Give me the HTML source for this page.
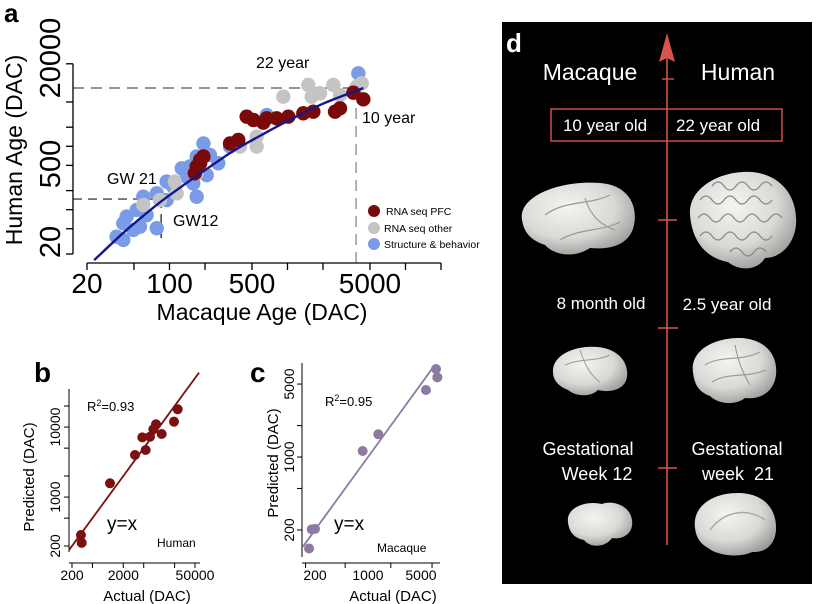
<!DOCTYPE html>
<html><head><meta charset="utf-8"><style>
html,body{margin:0;padding:0;background:#fff;}
svg{display:block;font-family:"Liberation Sans",sans-serif;}
</style></head><body>
<svg id="fig" width="820" height="604" viewBox="0 0 820 604" xmlns="http://www.w3.org/2000/svg">
<defs>
<radialGradient id="brainG" cx="40%" cy="35%" r="70%">
<stop offset="0" stop-color="#f4f4f2"/><stop offset="0.6" stop-color="#d9d9d6"/><stop offset="1" stop-color="#9a9a98"/>
</radialGradient>
</defs>
<!-- Panel a static -->
<text x="4" y="22" font-size="26" font-weight="bold">a</text>
<text transform="translate(22,150) rotate(-90)" text-anchor="middle" font-size="23">Human Age (DAC)</text>
<text x="262" y="320" text-anchor="middle" font-size="23">Macaque Age (DAC)</text>
<text transform="translate(60,58) rotate(-90)" text-anchor="middle" font-size="29">20000</text>
<text transform="translate(60,164) rotate(-90)" text-anchor="middle" font-size="29">500</text>
<text transform="translate(60,242) rotate(-90)" text-anchor="middle" font-size="29">20</text>
<g id="aTickLabels" font-size="28" text-anchor="middle"></g>
<g id="panelA"></g>
<text x="256" y="68" font-size="16">22 year</text>
<text x="362" y="123" font-size="16">10 year</text>
<text x="107" y="184" font-size="16">GW 21</text>
<text x="173" y="226" font-size="16">GW12</text>
<g font-size="10.5">
<circle cx="374" cy="211" r="6" fill="#7a0a0a"/>
<text x="386" y="215">RNA seq PFC</text>
<circle cx="374" cy="228" r="6" fill="#c4c4c4"/>
<text x="384" y="232">RNA seq other</text>
<circle cx="374" cy="244" r="6" fill="#7a9be8"/>
<text x="384" y="248">Structure &amp; behavior</text>
</g>
<!-- Panel b -->
<text x="34" y="382" font-size="28" font-weight="bold">b</text>
<text transform="translate(34,477) rotate(-90)" text-anchor="middle" font-size="15">Predicted (DAC)</text>
<text x="147" y="601" text-anchor="middle" font-size="15">Actual (DAC)</text>
<text x="87" y="411" font-size="13">R<tspan font-size="9" dy="-5">2</tspan><tspan dy="5">=0.93</tspan></text>
<text x="107" y="530" font-size="19">y=x</text>
<text x="157" y="547" font-size="12">Human</text>
<g id="panelB"></g>
<!-- Panel c -->
<text x="250" y="382" font-size="28" font-weight="bold">c</text>
<text transform="translate(278,463) rotate(-90)" text-anchor="middle" font-size="15">Predicted (DAC)</text>
<text x="393" y="601" text-anchor="middle" font-size="15">Actual (DAC)</text>
<text x="325" y="406" font-size="13">R<tspan font-size="9" dy="-5">2</tspan><tspan dy="5">=0.95</tspan></text>
<text x="334" y="530" font-size="19">y=x</text>
<text x="377" y="552" font-size="12">Macaque</text>
<g id="panelC"></g>
<!-- Panel d -->
<g>
<rect x="502" y="22" width="310" height="562" fill="#000"/>
<text x="506" y="52" font-size="26" font-weight="bold" fill="#fff">d</text>
<line x1="667" y1="58" x2="667" y2="545" stroke="#d9534f" stroke-width="1.6"/>
<polygon points="667,33 659,62 667,58 675,62" fill="#d9534f"/>
<line x1="662" y1="79" x2="674" y2="79" stroke="#d9534f" stroke-width="1.4"/>
<line x1="658" y1="220" x2="677" y2="220" stroke="#d9534f" stroke-width="1.4"/>
<line x1="658" y1="328" x2="678" y2="328" stroke="#d9534f" stroke-width="1.4"/>
<line x1="658" y1="468" x2="677" y2="468" stroke="#d9534f" stroke-width="1.4"/>
<text x="590" y="80" text-anchor="middle" font-size="23" fill="#fff">Macaque</text>
<text x="738" y="80" text-anchor="middle" font-size="23" fill="#fff">Human</text>
<rect x="551" y="109" width="231" height="32" fill="none" stroke="#d9534f" stroke-width="1.4"/>
<text x="605" y="131" text-anchor="middle" font-size="17" fill="#fff">10 year old</text>
<text x="718" y="131" text-anchor="middle" font-size="17" fill="#fff">22 year old</text>
<g>
<path d="M522,220 C518,196 560,180 600,183 C628,185 638,205 634,225 C630,245 610,250 590,248 C575,258 555,256 545,245 C530,240 524,232 522,220 Z" fill="url(#brainG)"/>
<path d="M545,215 C565,200 590,205 610,195 M560,240 C580,228 600,232 620,222 M585,198 C590,215 600,225 615,230" stroke="#999" stroke-width="1.2" fill="none"/>
</g>
<g>
<path d="M690,215 C688,188 720,170 752,172 C784,175 798,200 796,225 C794,245 780,258 765,258 C758,270 740,272 728,262 C705,258 692,240 690,215 Z" fill="url(#brainG)"/>
<path d="M700,200 q6,-8 12,0 t12,0 t12,0 t12,0 t12,0 t12,0 M698,218 q6,-8 12,0 t12,0 t12,0 t12,0 t12,0 t12,0 t12,0 M700,236 q6,-8 12,0 t12,0 t12,0 t12,0 t12,0 t12,0 M712,186 q6,-8 12,0 t12,0 t12,0 t12,0 t12,0 M730,252 q6,-8 12,0 t12,0 t12,0" stroke="#8a8a88" stroke-width="1.3" fill="none"/>
</g>
<text x="601" y="309" text-anchor="middle" font-size="17" fill="#fff">8 month old</text>
<text x="727" y="310" text-anchor="middle" font-size="17" fill="#fff">2.5 year old</text>
<g>
<path d="M553,372 C552,355 575,345 598,347 C618,349 629,362 627,377 C625,390 610,393 598,390 C590,398 575,396 568,390 C558,386 553,380 553,372 Z" fill="url(#brainG)"/>
<path d="M565,365 C580,358 595,362 610,355 M580,350 C585,365 590,375 600,382" stroke="#999" stroke-width="1" fill="none"/>
</g>
<g>
<path d="M693,372 C690,350 715,337 742,338 C766,340 778,355 776,375 C774,392 760,400 745,398 C735,406 718,404 710,396 C698,392 694,383 693,372 Z" fill="url(#brainG)"/>
<path d="M705,365 C720,355 740,362 760,352 M712,382 C728,372 748,378 766,370 M735,345 C738,360 742,372 750,385" stroke="#999" stroke-width="1.1" fill="none"/>
</g>
<text x="588" y="455" text-anchor="middle" font-size="18" fill="#fff">Gestational</text>
<text x="597" y="480" text-anchor="middle" font-size="18" fill="#fff">Week 12</text>
<text x="737" y="455" text-anchor="middle" font-size="18" fill="#fff">Gestational</text>
<text x="738" y="480" text-anchor="middle" font-size="18" fill="#fff" xml:space="preserve">week  21</text>
<g>
<path d="M568,522 C566,508 585,500 602,504 C612,500 630,505 632,520 C634,534 622,540 612,538 C605,548 590,548 584,540 C574,538 569,532 568,522 Z" fill="url(#brainG)"/>
</g>
<g>
<path d="M695,528 C692,505 715,492 740,493 C765,494 777,510 776,530 C775,545 765,553 752,552 C740,558 718,556 708,548 C699,543 696,536 695,528 Z" fill="url(#brainG)"/>
<path d="M710,530 C725,510 748,508 765,520" stroke="#aaa" stroke-width="1.5" fill="none"/>
</g>
</g>
</svg>
<script>
// ---------- Panel A data ----------
const redX = [3614,4393,2529,2787,1656,1362,1016,809,667,624,514,451,383,326,182,170,194,164,182];
const redY = [7000,5500,3510,3970,3510,3310,2930,2760,2760,2360,2600,2930,1260,1110,610,480,690,375,540];
const greyX = [4256,3857,2445,2787,1888,1500,1604,922,548,548,396,111,115,83,60,170];
const greyY = [9840,8710,9270,6440,6860,9270,6060,6060,1420,990,990,277,181,142,119,375];
const blueX = [3984,667,194,220,259,170,149,207,159,170,127,94.6,78,94.6,60,64,52.7,43.4,56.2,40.6,49.4,35.6,40.6,78,326,140,107.7];
const blueY = [14160,3110,1110,730,540,690,480,350,260,160,450,277,181,142,160,82,99,78,54,61,48,37.5,33.3,51,990,330,230];
const fitX = [23,40,60,85,130,200,350,600,1000,2000,4400];
const fitY = [16,42,80,135,240,420,850,1500,2500,4700,8300];
const aXTicks = [20,50,100,200,500,1000,2000,5000,10000,20000];
const aXTickLabels = ["20","100","500","5000"];
const aXTickLabelVals = [20,100,500,5000];
const aYTicks = [20,50,100,200,500,1000,2000,5000,20000];
const refMacaque = [85,3815];
const refHuman = [147,8300];
// ---------- Panel B data ----------
const bActual = [299,309,1101,3380,5460,4700,6630,7700,8680,11200,19450,22960];
const bPred = [287,222,1574,3990,4700,7140,7280,9290,10960,7960,11940,17940];
const bIdentity = [175,59800];
const bXTicks = [200,500,2000,5000,20000,50000];
const bXLabels = ["200","2000","50000"];
const bXLabelVals = [200,2000,50000];
const bYTicks = [200,500,1000,2000,5000,10000,20000];
const bYLabels = ["200","1000","10000"];
const bYLabelVals = [200,1000,10000];
// ---------- Panel C data ----------
const cActual = [167,181,200,851,1368,5820,7900,8220];
const cPred = [133,203,205,1142,1652,4385,6970,5800];
const cIdentity = [138,7430];
const cXTicks = [150,500,2000,7000];
const cXLabels = ["200","1000","5000"];
const cXLabelVals = [200,1000,5000];
const cYTicks = [200,500,1000,2000,5000];
const cYLabels = ["200","1000","5000"];
const cYLabelVals = [200,1000,5000];

const NS = "http://www.w3.org/2000/svg";
const L = Math.log10;
function ax(v){return 87+118*L(v/20);}
function ay(v){return 254-63.4*L(v/20);}
function bx(v){return 72+51.3*L(v/200);}
function by(v){return 546-70*L(v/200);}
function cx(v){return 315+75.8*L(v/200);}
function cy(v){return 530-104.4*L(v/200);}
function mk(tag,attrs,parent){const e=document.createElementNS(NS,tag);for(const k in attrs)e.setAttribute(k,attrs[k]);parent.appendChild(e);return e;}

// Panel A
const A = document.getElementById('panelA');
let e;
e = mk('line',{x1:ax(20)-14,y1:ay(refHuman[1]),x2:ax(refMacaque[1]),y2:ay(refHuman[1]),stroke:'#555','stroke-width':1.3,'stroke-dasharray':'11,7'},A);


e = mk('line',{x1:ax(refMacaque[1]),y1:ay(refHuman[1])+20,x2:ax(refMacaque[1]),y2:263,stroke:'#888','stroke-width':1.3,'stroke-dasharray':'11,7'},A);


e = mk('line',{x1:ax(20)-14,y1:ay(refHuman[0]),x2:ax(refMacaque[0]),y2:ay(refHuman[0]),stroke:'#444','stroke-width':1.3,'stroke-dasharray':'9,6'},A);


e = mk('line',{x1:ax(refMacaque[0]),y1:ay(refHuman[0]),x2:ax(refMacaque[0]),y2:240,stroke:'#222','stroke-width':1.3,'stroke-dasharray':'9,6'},A);


e = mk('line',{x1:73,y1:ay(20000),x2:73,y2:ay(20),stroke:'#000','stroke-width':1.3},A);


e = mk('line',{x1:ax(20),y1:263,x2:ax(20000),y2:263,stroke:'#000','stroke-width':1.3},A);


aYTicks.forEach(v=>{const t=mk('line',{x1:66,y1:ay(v),x2:73,y2:ay(v),stroke:'#000','stroke-width':1.3},A);

});
aXTicks.forEach(v=>{const t=mk('line',{x1:ax(v),y1:263,x2:ax(v),y2:270,stroke:'#000','stroke-width':1.3},A);

});
const ATL=document.getElementById('aTickLabels');
aXTickLabels.forEach((s,i)=>{const t=mk('text',{x:ax(aXTickLabelVals[i]),y:293},ATL);t.textContent=s;

});
function dots(xs,ys,fill,name){xs.forEach((v,i)=>{const c=mk('circle',{cx:ax(v),cy:ay(ys[i]),r:7.2,fill:fill},A);

});}
dots(blueX,blueY,'#7a9be8','point-structure-behavior');
dots(greyX,greyY,'#c4c4c4','point-rna-seq-other');
dots(redX,redY,'#7a0a0a','point-rna-seq-pfc');
// smooth curve via Catmull-Rom
(function(){const pts=fitX.map((v,i)=>[ax(v),ay(fitY[i])]);let d='M'+pts[0][0]+','+pts[0][1];
for(let i=0;i<pts.length-1;i++){const p0=pts[Math.max(0,i-1)],p1=pts[i],p2=pts[i+1],p3=pts[Math.min(pts.length-1,i+2)];
d+=' C'+(p1[0]+(p2[0]-p0[0])/6)+','+(p1[1]+(p2[1]-p0[1])/6)+' '+(p2[0]-(p3[0]-p1[0])/6)+','+(p2[1]-(p3[1]-p1[1])/6)+' '+p2[0]+','+p2[1];}
const p=mk('path',{d:d,fill:'none',stroke:'#15168a','stroke-width':2.4},A);

})();

// Panel B/C generic
function scatterPanel(gid,X,Y,xs,ys,identity,xT,yT,xL,xLV,yL,yLV,axisX,axisYtop,axisYbot,axisXright,color,prefix,yLabX){
const G=document.getElementById(gid);let t;
t=mk('line',{x1:axisX,y1:axisYtop,x2:axisX,y2:axisYbot,stroke:'#000','stroke-width':1},G);


t=mk('line',{x1:axisX,y1:563,x2:axisXright,y2:563,stroke:'#000','stroke-width':1},G);


yT.forEach(v=>{const k=mk('line',{x1:axisX-5,y1:Y(v),x2:axisX,y2:Y(v),stroke:'#000'},G);

});
xT.forEach(v=>{const k=mk('line',{x1:X(v),y1:563,x2:X(v),y2:568,stroke:'#000'},G);

});
xL.forEach((s,i)=>{const k=mk('text',{x:X(xLV[i]),y:580,'text-anchor':'middle','font-size':14},G);k.textContent=s;

});
yL.forEach((s,i)=>{const k=mk('text',{transform:'translate('+yLabX+','+Y(yLV[i])+') rotate(-90)','text-anchor':'middle','font-size':14},G);k.textContent=s;

});
t=mk('line',{x1:X(identity[0]),y1:Y(identity[0]),x2:X(identity[1]),y2:Y(identity[1]),stroke:color,'stroke-width':1.8},G);


xs.forEach((v,i)=>{const c=mk('circle',{cx:X(v),cy:Y(ys[i]),r:5,fill:color},G);

});
}
scatterPanel('panelB',bx,by,bActual,bPred,bIdentity,bXTicks,bYTicks,bXLabels,bXLabelVals,bYLabels,bYLabelVals,69,389,552,200,'#7b1010','b',60);
scatterPanel('panelC',cx,cy,cActual,cPred,cIdentity,cXTicks,cYTicks,cXLabels,cXLabelVals,cYLabels,cYLabelVals,302,363,557,440,'#8e7aa0','c',294);
</script>
</body></html>
